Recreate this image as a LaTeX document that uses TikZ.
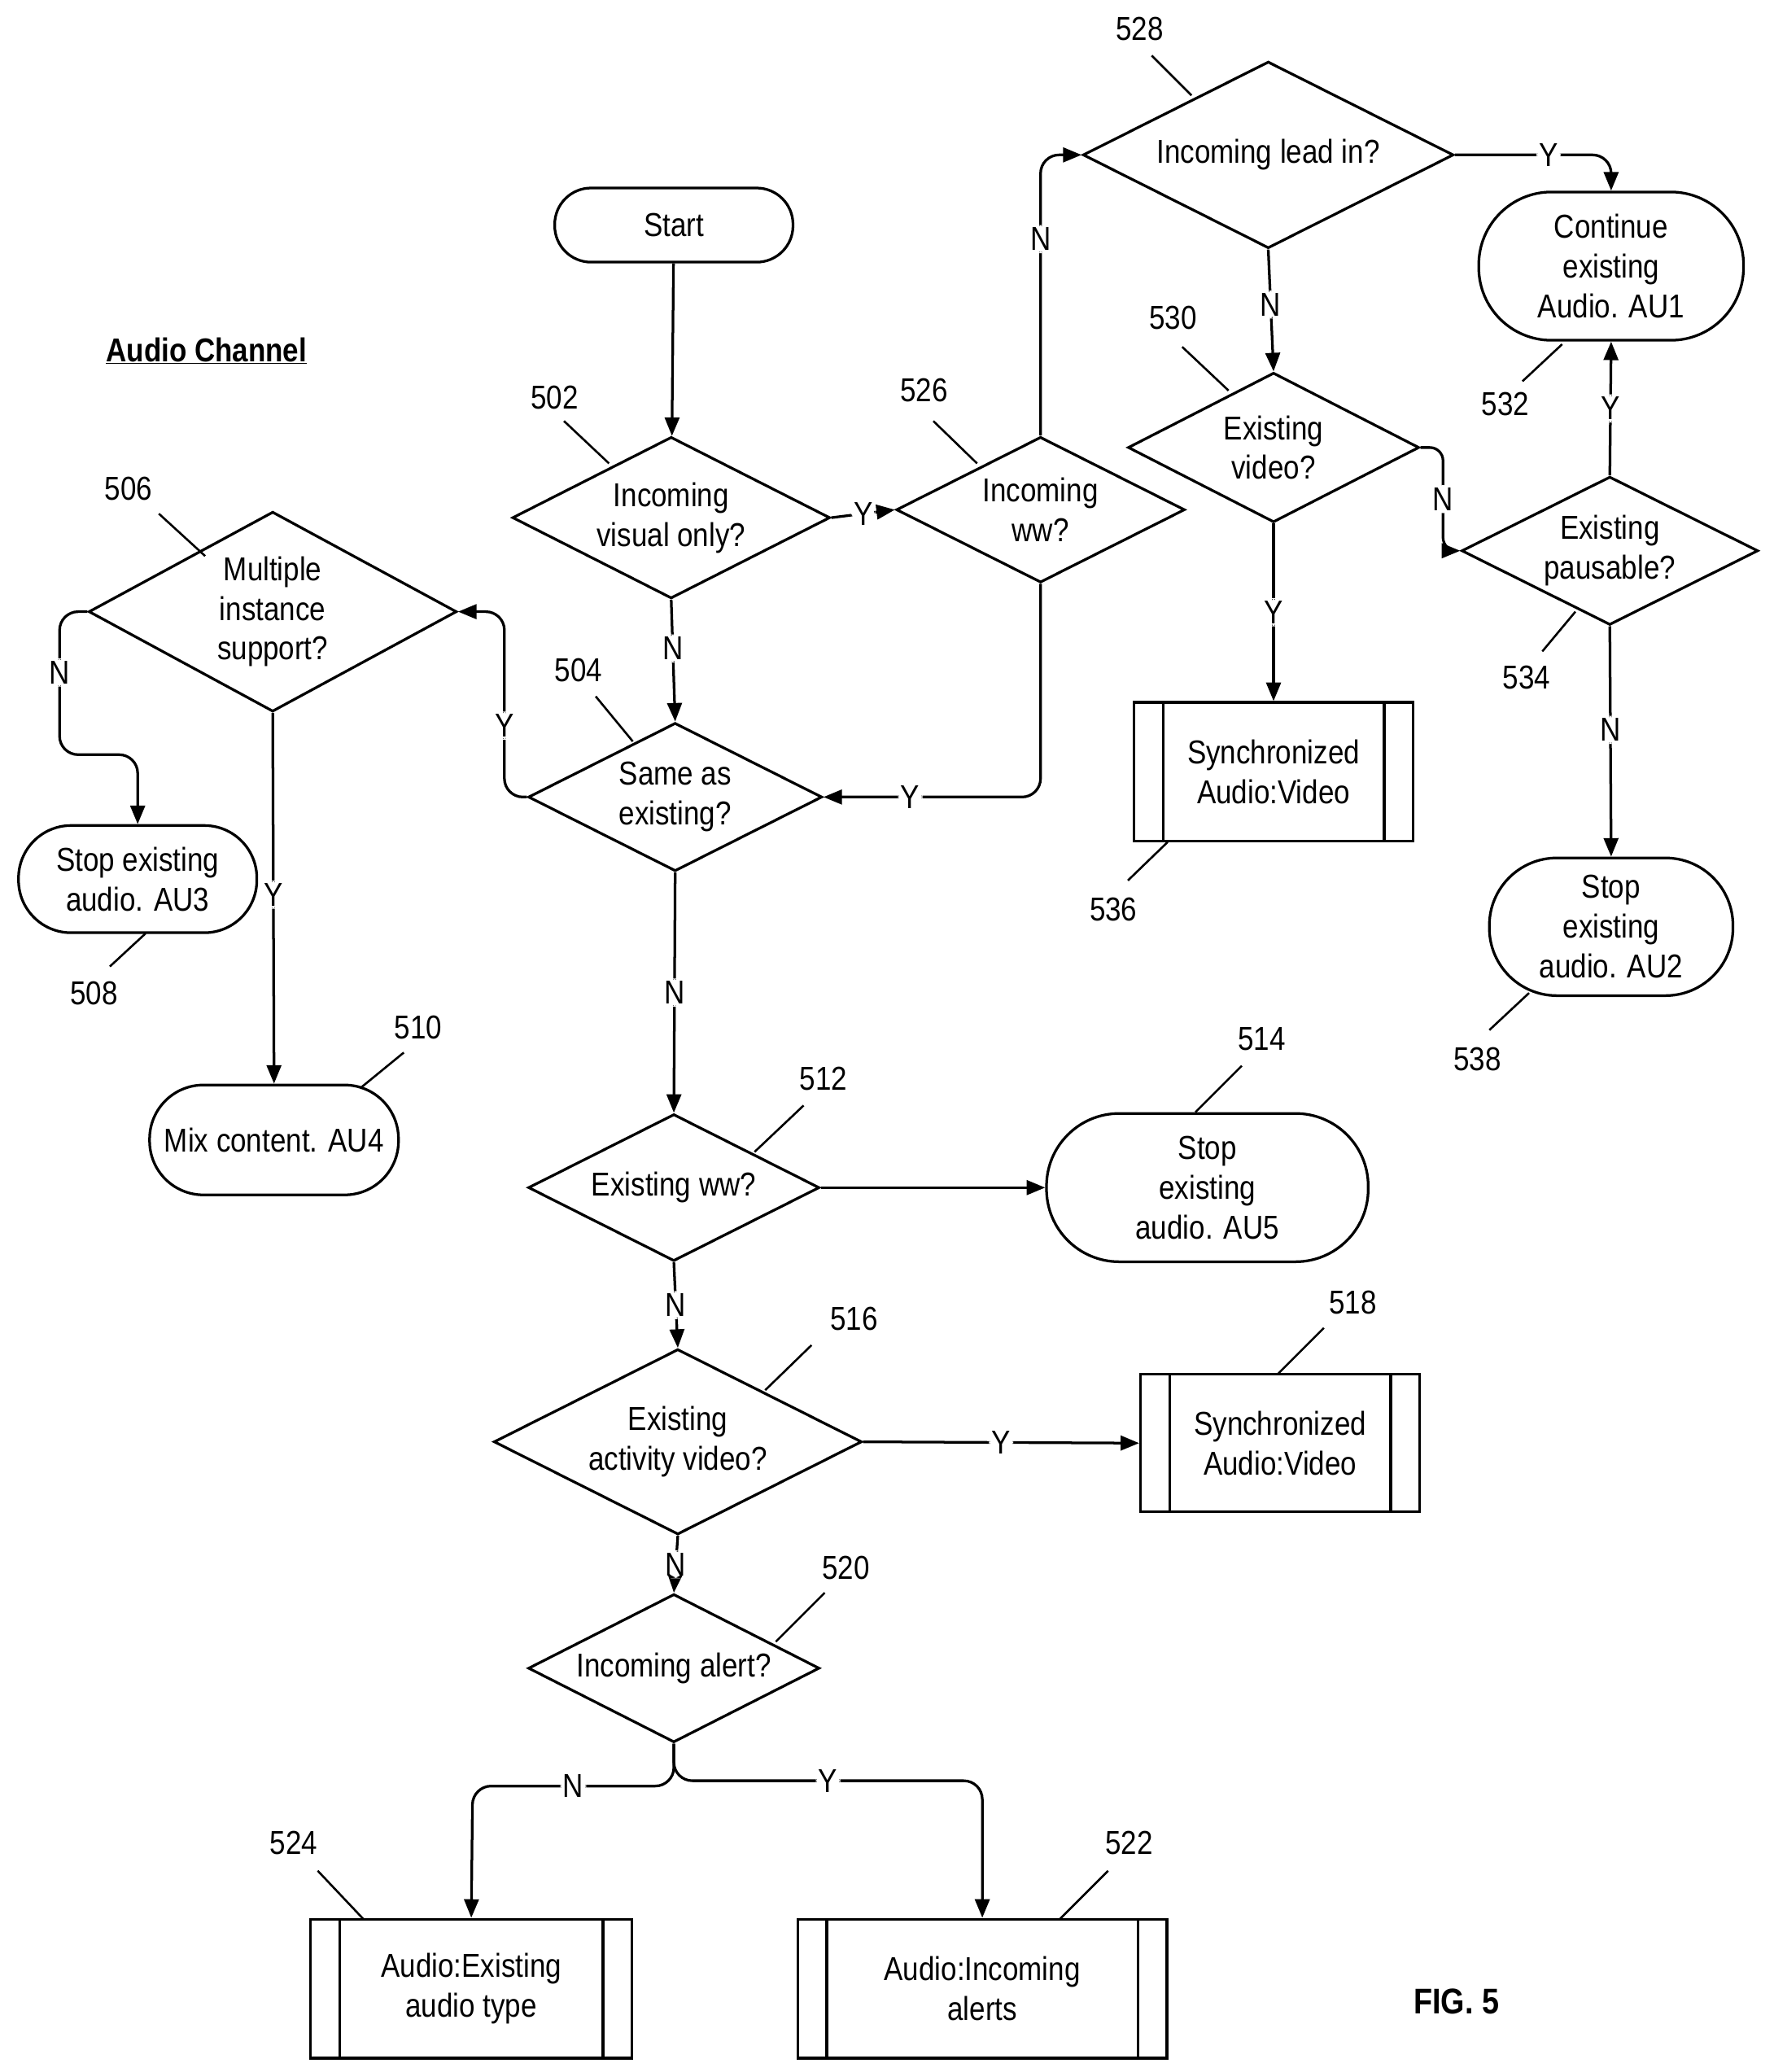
\documentclass[tikz,border=0pt]{standalone}
\usepackage{fontspec}
\setmainfont{Liberation Sans}[FakeStretch=0.86]
\usetikzlibrary{shapes.geometric,arrows.meta}
\begin{document}
\begin{tikzpicture}[x=1pt,y=-1pt,line width=2pt,font=\fontsize{25}{30}\selectfont,
 txt/.style={align=center},
 arr/.style={-{Triangle[length=14pt,width=11pt]},rounded corners=14pt},
 lab/.style={fill=white,inner sep=2pt},
 ref/.style={line width=1.6pt}]
\useasboundingbox (0,0) rectangle (1340,1565);
\newcommand\Dia[6]{\node[draw,diamond,inner sep=0pt,minimum width=#4,minimum height=#5] (#1) at (#2,#3) {}; \node[txt] at (#1) {#6};}
\newcommand\Rnd[6]{\pgfmathsetmacro\rr{#5*0.49}\node[draw,rounded corners=\rr pt,minimum width=#4,minimum height=#5,inner sep=0pt] (#1) at (#2,#3) {}; \node[txt] at (#1) {#6};}
\newcommand\PBox[6]{\node[draw,minimum width=#4,minimum height=#5,inner sep=0pt] (#1) at (#2,#3) {}; \draw ([xshift=23pt]#1.north west)--([xshift=23pt]#1.south west) ([xshift=-23pt]#1.north east)--([xshift=-23pt]#1.south east); \node[txt] at (#1) {#6};}
\Rnd{start}{509}{170}{180}{56}{Start}
\Dia{d502}{507}{391}{240}{122}{Incoming\\visual only?}
\Dia{d526}{786}{385}{218}{110}{Incoming\\ww?}
\Dia{d528}{958}{117}{280}{141}{Incoming lead in?}
\Dia{d530}{962}{338}{220}{113}{Existing\\video?}
\Rnd{r532}{1217}{201}{200}{112}{Continue\\existing\\Audio. AU1}
\Dia{d534}{1216}{416}{224}{112}{Existing\\pausable?}
\PBox{b536}{962}{583}{211}{105}{Synchronized\\Audio:Video}
\Rnd{r538}{1217}{700}{184}{104}{Stop\\existing\\audio. AU2}
\Dia{d506}{206}{462}{278}{151}{Multiple\\instance\\support?}
\Dia{d504}{510}{602}{222}{112}{Same as\\existing?}
\Rnd{r508}{104}{664}{180}{81}{Stop existing\\audio. AU3}
\Rnd{r510}{207}{861}{188}{83}{Mix content. AU4}
\Dia{d512}{509}{897}{220}{111}{Existing ww?}
\Rnd{r514}{912}{897}{243}{112}{Stop\\existing\\audio. AU5}
\Dia{d516}{512}{1089}{278}{140}{Existing\\activity video?}
\PBox{b518}{967}{1090}{211}{104}{Synchronized\\Audio:Video}
\Dia{d520}{509}{1260}{220}{112}{Incoming alert?}
\PBox{b524}{356}{1502}{243}{105}{Audio:Existing\\audio type}
\PBox{b522}{742}{1502}{279}{105}{Audio:Incoming\\alerts}
% edges
\draw[arr] (start) -- (d502);
\draw[arr] (d502.east) -- node[lab]{Y} (d526.west);
\draw[arr] (d502.south) -- node[lab,pos=0.4]{N} (d504.north);
\draw[arr] (d526.north) |- node[lab,pos=0.35]{N} (d528.west);
\draw[arr] (d526.south) |- node[lab,pos=0.8]{Y} (d504.east);
\draw[arr] (d528.east) -| node[lab,pos=0.3]{Y} (r532.north);
\draw[arr] (d528.south) -- node[lab,pos=0.45]{N} (d530.north);
\draw[arr,rounded corners=10pt] (d530.east) -| (1090,377) node[lab]{N} |- (d534.west);
\draw[arr] (d530.south) -- node[lab,pos=0.5]{Y} (b536.north);
\draw[arr] (d534.north) -- node[lab]{Y} (r532.south);
\draw[arr] (d534.south) -- node[lab,pos=0.45]{N} (r538.north);
\draw[arr] (d504.west) -| (381,548) node[lab]{Y} |- (d506.east);
\draw[arr] (d506.west) -| (45,508) node[lab]{N} |- (104,570) -- (r508.north);
\draw[arr] (d506.south) -- node[lab,pos=0.49]{Y} (r510.north);
\draw[arr] (d504.south) -- node[lab,pos=0.5]{N} (d512.north);
\draw[arr] (d512.east) -- (r514.west);
\draw[arr] (d512.south) -- node[lab,pos=0.5]{N} (d516.north);
\draw[arr] (d516.east) -- node[lab,pos=0.5]{Y} (b518.west);
\draw[arr] (d516.south) -- node[lab,pos=0.5]{N} (d520.north);
\draw[arr] (d520.south) |- (357,1349) node[pos=0.75,lab]{N} -- (b524.north);
\draw[arr] (d520.south) |- (742,1345) node[pos=0.75,lab]{Y} -- (b522.north);
% reference numbers
\foreach \t/\x/\y/\ax/\ay/\bx/\by in {528/861/22/870/42/900/72, 502/419/300/426/318/460/350, 526/698/295/705/318/738/350, 530/886/240/893/262/928/295, 532/1137/305/1150/288/1180/260, 534/1153/512/1165/492/1190/462, 536/841/687/852/665/882/636, 538/1116/800/1125/778/1155/750, 506/97/369/120/388/155/420, 504/437/506/450/526/478/560, 508/71/750/83/730/110/705, 510/316/776/305/795/272/822, 512/622/815/607/835/570/870, 514/953/785/938/805/903/840, 516/645/996/613/1016/578/1050, 518/1022/984/1000/1003/965/1038, 520/639/1184/623/1203/586/1240, 524/222/1392/240/1413/275/1450, 522/853/1392/837/1413/800/1450}
{\node (n\t) at (\x,\y) {\t}; \draw[ref] (\ax,\ay) -- (\bx,\by);}
\node[font=\fontsize{25}{30}\selectfont\bfseries] (title) at (156,265) {\underline{Audio Channel}};
\node[font=\fontsize{27}{30}\selectfont\bfseries] (fig) at (1100,1512) {FIG. 5};
\end{tikzpicture}
\end{document}
